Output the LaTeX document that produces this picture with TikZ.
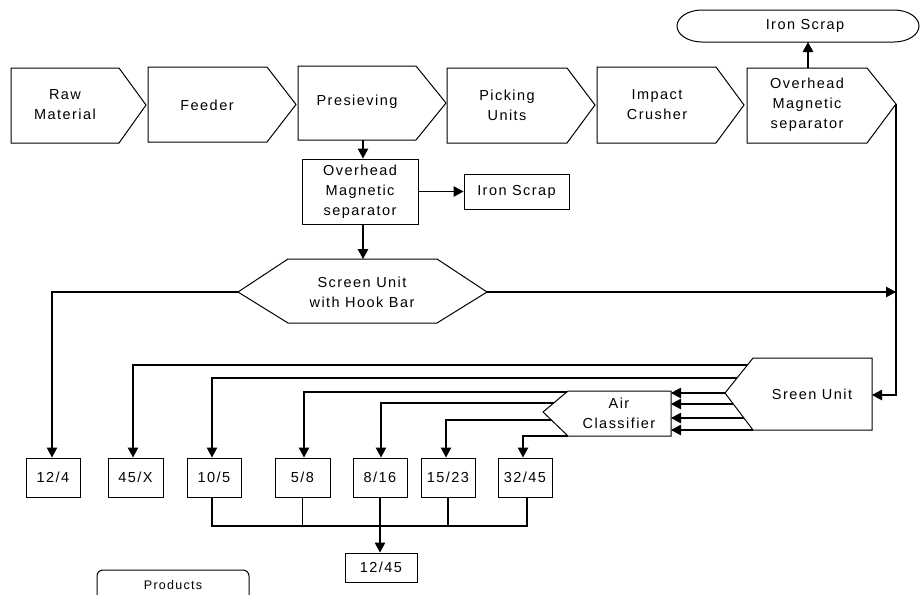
\documentclass[tikz,border=0pt]{standalone}
\usepackage{fontspec}
\setmainfont{Liberation Sans}[LetterSpace=10]
\usetikzlibrary{arrows.meta}
\begin{document}
\begin{tikzpicture}[x=1pt,y=-1pt,
  lbl/.style={font=\fontsize{14.5}{20}\selectfont, align=center, inner sep=0pt},
  lblsmall/.style={font=\fontsize{12.5}{16}\selectfont, align=center, inner sep=0pt},
  shp/.style={draw, line width=1pt, line join=miter},
  box/.style={draw, line width=1pt, inner sep=0pt, font=\fontsize{14.5}{20}\selectfont, align=center},
  arr/.style={-{Triangle[length=10pt,width=10.5pt]}, line width=1.1pt},
  ln/.style={line width=1.1pt}]
\useasboundingbox (0,0) rectangle (922,595);

% ---- top row of arrow shapes
\draw[shp] (11,68) -- (119,68) -- (146,105) -- (119,143) -- (11,143) -- cycle;
\node[lbl] (raw) at (65,105) {Raw\\Material};
\draw[shp] (148,67) -- (267,67) -- (296,104.5) -- (267,142) -- (148,142) -- cycle;
\node[lbl] (feed) at (207,105) {Feeder};
\draw[shp] (298,66) -- (416,66) -- (446,103) -- (416,140) -- (298,140) -- cycle;
\node[lbl] (pres) at (357,102) {Presieving};
\coordinate (presB) at (363,140);
\draw[shp] (447,68) -- (567,68) -- (595,105) -- (567,143) -- (447,143) -- cycle;
\node[lbl] (pick) at (507,105) {Picking\\Units};
\draw[shp] (597,67) -- (716,67) -- (744,105) -- (716,143) -- (597,143) -- cycle;
\node[lbl] (imp) at (657,105) {Impact\\Crusher};
\draw[shp] (747,68) -- (867,68) -- (896,104) -- (867,143) -- (747,143) -- cycle;
\node[lbl] (omT) at (807,105) {Overhead\\Magnetic\\separator};
\coordinate (omTtop) at (808,68);
\coordinate (omTtip) at (896,104);

% ---- iron scrap terminator
\draw[shp] (702,10) -- (894,10) .. controls (907.8,10) and (919,17.2) .. (919,26)
  .. controls (919,34.8) and (907.8,42) .. (894,42) -- (702,42)
  .. controls (688.2,42) and (677,34.8) .. (677,26)
  .. controls (677,17.2) and (688.2,10) .. (702,10) -- cycle;
\node[lbl] (is1) at (805,26) {Iron Scrap};
\coordinate (is1b) at (808,42);
\draw[arr] (omTtop) -- (is1b);

% ---- middle column
\node[box, minimum width=116pt, minimum height=65pt] (om2) at (360,191.5) {Overhead\\Magnetic\\separator};
\node[box, minimum width=105pt, minimum height=35pt] (is2) at (516.5,191.5) {Iron Scrap};
\draw[arr] (presB) -- (presB |- om2.north);
\draw[arr] (om2.east) -- (is2.west);

% hexagon
\draw[shp] (238,292) -- (288,259) -- (437,259) -- (487,292) -- (437,323) -- (288,323) -- cycle;
\node[lbl] (hex) at (362,292) {Screen Unit\\with Hook Bar};
\coordinate (hexL) at (238,292);
\coordinate (hexR) at (487,292);
\coordinate (hexT) at (363,259);
\draw[arr] (presB |- om2.south) -- (hexT);

% ---- screen unit
\draw[shp] (725,393) -- (753,358) -- (872,358) -- (872,430) -- (753,430) -- cycle;
\node[lbl] (su) at (812,394) {Sreen Unit};
\coordinate (suR) at (872,395);
\draw[arr] (omTtip) -- (omTtip |- suR) -- (suR);
\draw[arr] (hexR) -- (hexR -| omTtip);

% ---- air classifier
\draw[shp] (543,412) -- (568,391) -- (671,391) -- (671,436) -- (568,436) -- cycle;
\node[lbl] (ac) at (619,413) {Air\\Classifier};
\coordinate (acR) at (671,413);

% slant points of screen unit
\coordinate (su1) at (747.4,365);
\coordinate (su2) at (737,378);
\coordinate (sa1) at (725,393);
\coordinate (sa2) at (733.3,404);
\coordinate (sa3) at (743.9,418);
\coordinate (sa4) at (753,430);
\draw[arr] (sa1) -- (sa1 -| acR);
\draw[arr] (sa2) -- (sa2 -| acR);
\draw[arr] (sa3) -- (sa3 -| acR);
\draw[arr] (sa4) -- (sa4 -| acR);

% slant points of air classifier
\coordinate (ac1) at (567,392);
\coordinate (ac2) at (553.7,403);
\coordinate (ac3) at (551.3,420);
\coordinate (ac4) at (568,436);

% ---- bottom boxes
\node[box, minimum width=54pt, minimum height=39pt] (b124) at (53,477.5) {12/4};
\node[box, minimum width=55pt, minimum height=39pt] (b45x) at (135.5,477.5) {45/X};
\node[box, minimum width=54pt, minimum height=39pt] (b105) at (214,477.5) {10/5};
\node[box, minimum width=55pt, minimum height=39pt] (b58) at (302.5,477.5) {5/8};
\node[box, minimum width=54pt, minimum height=39pt] (b816) at (380,477.5) {8/16};
\node[box, minimum width=54pt, minimum height=39pt] (b1523) at (448,477.5) {15/23};
\node[box, minimum width=54pt, minimum height=39pt] (b3245) at (525,477.5) {32/45};
\node[box, minimum width=72pt, minimum height=29pt] (b1245) at (381,567.5) {12/45};

\draw[arr] (hexL) -| ([xshift=-1pt]b124.north);
\draw[arr] (su1) -| ([xshift=-2.5pt]b45x.north);
\draw[arr] (su2) -| ([xshift=-2pt]b105.north);
\draw[arr] (ac1) -| ([xshift=1.5pt]b58.north);
\draw[arr] (ac2) -| ([xshift=1pt]b816.north);
\draw[arr] (ac3) -| ([xshift=-2pt]b1523.north);
\draw[arr] (ac4) -| ([xshift=-2pt]b3245.north);

% collector
\coordinate (bus) at (0,526);
\draw[ln] ([xshift=-2pt]b105.south) -- ([xshift=-2pt]b105.south |- bus) -- ([xshift=2pt]b3245.south |- bus) -- ([xshift=2pt]b3245.south);
\draw[ln] (b58.south) -- (b58.south |- bus);
\draw[ln] (b1523.south) -- (b1523.south |- bus);
\draw[arr] (b816.south) -- (b816.south |- b1245.north);

% ---- products
\draw[shp, rounded corners=6pt] (97,610) -- (97,570) -- (249,570) -- (249,610);
\node[lblsmall] (prod) at (173,585) {Products};
\end{tikzpicture}
\end{document}
